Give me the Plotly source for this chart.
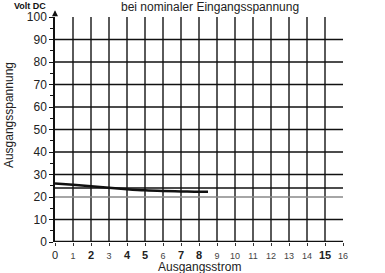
import plotly.graph_objects as go

# Data
current_a = [0, 1, 2, 3, 4, 5, 6, 7, 8, 8.5]
voltage_v = [26.0, 25.4, 24.8, 24.1, 23.5, 23.0, 22.7, 22.5, 22.3, 22.3]
x_ticks = list(range(0, 17))
x_bold = {2, 4, 5, 7, 8, 15}
y_ticks = list(range(0, 101, 10))
nominal_v = 24

FONT = "Liberation Sans, Arial, sans-serif"

def xlabel(v):
    if v in x_bold:
        return f"<b>{v}</b>"
    if v == 0:
        return "0"
    return f"<span style='font-size:9px;color:#444'>{v}</span>"

fig = go.Figure()
fig.add_trace(go.Scatter(x=current_a, y=voltage_v, mode="lines",
                         line=dict(color="#111", width=2.5, shape="spline"),
                         showlegend=False, hoverinfo="skip"))

fig.update_layout(
    width=385, height=273,
    margin=dict(l=55, r=42, t=17, b=31),
    paper_bgcolor="white", plot_bgcolor="white",
    font=dict(family=FONT, color="#222", size=10),
    xaxis=dict(range=[0, 16], tickmode="array", tickvals=x_ticks,
               ticktext=[xlabel(v) for v in x_ticks],
               showgrid=True, gridcolor="#5a5a5a", gridwidth=1.6,
               showline=False, zeroline=False,
               ticks="outside", ticklen=3, tickcolor="#333",
               tickfont=dict(size=11, color="#222"),
               automargin=False, fixedrange=True),
    yaxis=dict(range=[0, 100], tickmode="array", tickvals=y_ticks,
               showgrid=False,
               showline=True, linecolor="#111", linewidth=1.5,
               zeroline=False,
               ticks="outside", ticklen=4, tickcolor="#111",
               minor=dict(tickvals=list(range(5, 100, 10)), ticks="outside",
                          ticklen=3, tickcolor="#111"),
               tickfont=dict(size=12, color="#222"),
               automargin=False, fixedrange=True),
)

# horizontal 10-step lines (extend a bit right of the plot)
for v in y_ticks[1:-1]:
    col = "#888" if v == 20 else "#111"
    x1 = 16 if v == 20 else 16.2
    fig.add_shape(type="line", xref="x", yref="y", x0=0, x1=x1, y0=v, y1=v,
                  line=dict(color=col, width=1.3))
# nominal 24V line
fig.add_shape(type="line", xref="x", yref="y", x0=0, x1=16.2, y0=nominal_v, y1=nominal_v,
              line=dict(color="#111", width=1.3))
# x axis line (thick) with arrow
fig.add_shape(type="line", xref="x", yref="y", x0=0, x1=16.4, y0=0, y1=0,
              line=dict(color="#111", width=2.5))
fig.add_annotation(x=16.6, y=0, xref="x", yref="y", ax=16.2, ay=0, axref="x", ayref="y",
                   showarrow=True, arrowhead=2, arrowsize=0.8, arrowwidth=1.5,
                   arrowcolor="#111", text="")
# y axis arrow
fig.add_annotation(x=0, y=103, xref="x", yref="y", ax=0, ay=100, axref="x", ayref="y",
                   showarrow=True, arrowhead=2, arrowsize=0.8, arrowwidth=1.5,
                   arrowcolor="#111", text="")

fig.add_annotation(text="<b>Volt DC</b>", xref="paper", yref="paper", x=-0.025, y=1.0,
                   xanchor="right", yanchor="bottom", showarrow=False,
                   font=dict(size=9, color="#111"), yshift=4)
fig.add_annotation(text="bei nominaler Eingangsspannung", xref="paper", yref="paper",
                   x=0.538, y=1.0, xanchor="center", yanchor="bottom", showarrow=False,
                   font=dict(size=12, color="#222"), yshift=1)
fig.add_annotation(text="<b>Amp.</b>", xref="x", yref="y", x=16.5, y=0,
                   xanchor="left", yanchor="middle", showarrow=False,
                   font=dict(size=10, color="#111"), yshift=1)
fig.add_annotation(text=f"{nominal_v}V", xref="x", yref="y", x=16.45, y=nominal_v,
                   xanchor="left", yanchor="middle", showarrow=False,
                   font=dict(size=11, color="#222"))
# axis titles
fig.add_annotation(text="Ausgangsstrom", xref="paper", yref="paper", x=0.5, y=0,
                   xanchor="center", yanchor="top", showarrow=False, yshift=-16,
                   font=dict(size=12, color="#222"))
fig.add_annotation(text="Ausgangsspannung", xref="paper", yref="paper", x=0, y=0.564,
                   xanchor="center", yanchor="middle", showarrow=False, xshift=-46,
                   textangle=-90, font=dict(size=12, color="#222"))

fig.write_html("out.html", config={"displayModeBar": False},
               post_script="document.body.style.margin='0';document.body.style.overflow='hidden';")
